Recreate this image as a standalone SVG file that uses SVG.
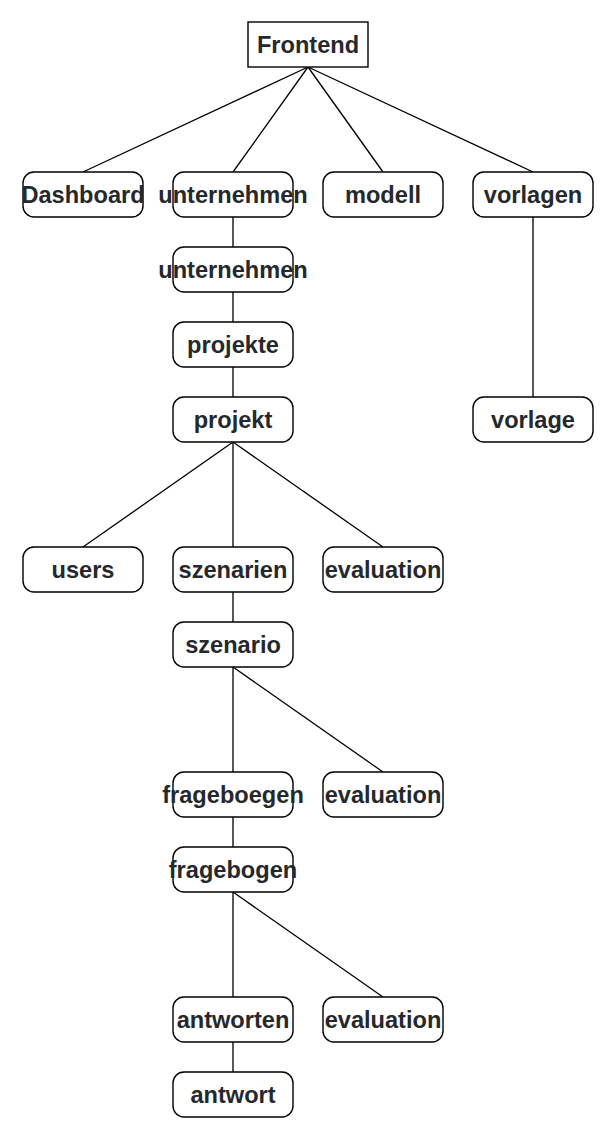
<svg xmlns="http://www.w3.org/2000/svg" width="615" height="1140" viewBox="0 0 615 1140">
<style>
.n{fill:#fff;stroke:#000;stroke-width:1.4}
.t{font-family:"Liberation Sans",Arial,sans-serif;font-weight:bold;font-size:23.6px;fill:#25282c;text-anchor:middle}
.e{stroke:#000;stroke-width:1.3;fill:none}
</style>
<rect width="615" height="1140" fill="#fff"/>
<g id="connectors">
<path class="e" d="M308 67L83 172M308 67L233 172M308 67L383 172M308 67L533 172"/>
<path class="e" d="M233 217V247M233 292V322M233 367V397M533 217V397"/>
<path class="e" d="M233 442L83 547M233 442V547M233 442L383 547"/>
<path class="e" d="M233 592V622M233 667V772M233 667L383 772M233 817V847"/>
<path class="e" d="M233 892V997M233 892L383 997M233 1042V1072"/>
</g>
<g id="frontend"><rect class="n" x="248" y="22" width="120" height="45"/><text class="t" x="308" y="53">Frontend</text></g>
<g id="dashboard"><rect class="n" x="23" y="172" width="120" height="45" rx="11"/><text class="t" x="83" y="203">Dashboard</text></g>
<g id="unternehmen1"><rect class="n" x="173" y="172" width="120" height="45" rx="11"/><text class="t" x="233" y="203">unternehmen</text></g>
<g id="modell"><rect class="n" x="323" y="172" width="120" height="45" rx="11"/><text class="t" x="383" y="203">modell</text></g>
<g id="vorlagen"><rect class="n" x="473" y="172" width="120" height="45" rx="11"/><text class="t" x="533" y="203">vorlagen</text></g>
<g id="unternehmen2"><rect class="n" x="173" y="247" width="120" height="45" rx="11"/><text class="t" x="233" y="278">unternehmen</text></g>
<g id="projekte"><rect class="n" x="173" y="322" width="120" height="45" rx="11"/><text class="t" x="233" y="353">projekte</text></g>
<g id="projekt"><rect class="n" x="173" y="397" width="120" height="45" rx="11"/><text class="t" x="233" y="428">projekt</text></g>
<g id="vorlage"><rect class="n" x="473" y="397" width="120" height="45" rx="11"/><text class="t" x="533" y="428">vorlage</text></g>
<g id="users"><rect class="n" x="23" y="547" width="120" height="45" rx="11"/><text class="t" x="83" y="578">users</text></g>
<g id="szenarien"><rect class="n" x="173" y="547" width="120" height="45" rx="11"/><text class="t" x="233" y="578">szenarien</text></g>
<g id="evaluation1"><rect class="n" x="323" y="547" width="120" height="45" rx="11"/><text class="t" x="383" y="578">evaluation</text></g>
<g id="szenario"><rect class="n" x="173" y="622" width="120" height="45" rx="11"/><text class="t" x="233" y="653">szenario</text></g>
<g id="frageboegen"><rect class="n" x="173" y="772" width="120" height="45" rx="11"/><text class="t" x="233" y="803">frageboegen</text></g>
<g id="evaluation2"><rect class="n" x="323" y="772" width="120" height="45" rx="11"/><text class="t" x="383" y="803">evaluation</text></g>
<g id="fragebogen"><rect class="n" x="173" y="847" width="120" height="45" rx="11"/><text class="t" x="233" y="878">fragebogen</text></g>
<g id="antworten"><rect class="n" x="173" y="997" width="120" height="45" rx="11"/><text class="t" x="233" y="1028">antworten</text></g>
<g id="evaluation3"><rect class="n" x="323" y="997" width="120" height="45" rx="11"/><text class="t" x="383" y="1028">evaluation</text></g>
<g id="antwort"><rect class="n" x="173" y="1072" width="120" height="45" rx="11"/><text class="t" x="233" y="1103">antwort</text></g>
</svg>
